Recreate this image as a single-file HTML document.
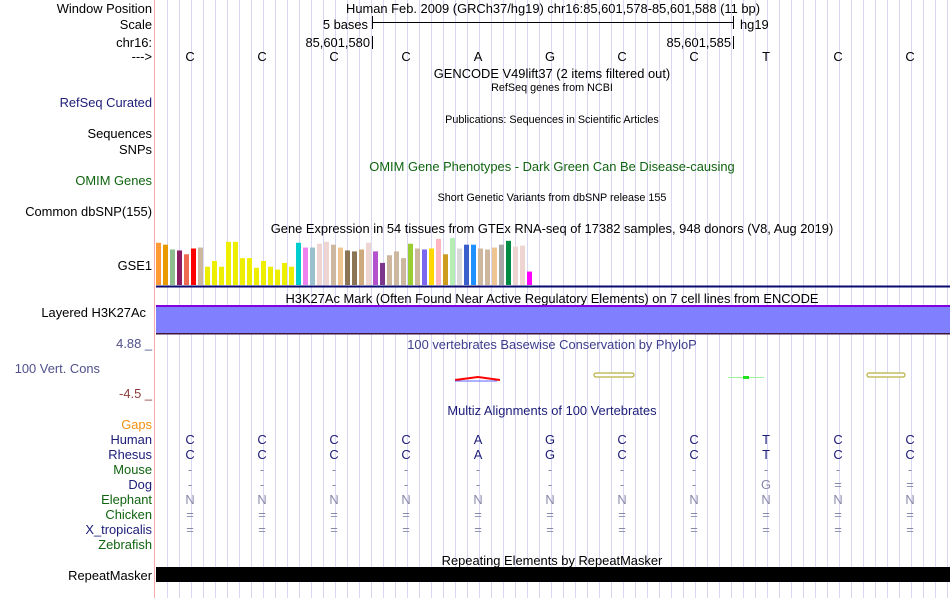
<!DOCTYPE html>
<html><head><meta charset="utf-8"><style>
html,body{margin:0;padding:0;background:#fff;}
svg{display:block;font-family:"Liberation Sans",sans-serif;}
</style></head><body>
<svg id="c" width="950" height="598" viewBox="0 0 950 598" xmlns="http://www.w3.org/2000/svg">
<g id="grid"></g>
<line x1="154.5" y1="0" x2="154.5" y2="598" stroke="#f8a8a8" stroke-width="1"/>
<g font-size="12.9" text-anchor="end" fill="#000">
<text x="152" y="13">Window Position</text>
<text x="152" y="29">Scale</text>
<text x="152" y="47">chr16:</text>
<text x="152" y="61">---&gt;</text>
<text x="152" y="107" fill="#1c1c78">RefSeq Curated</text>
<text x="152" y="138">Sequences</text>
<text x="152" y="154">SNPs</text>
<text x="152" y="185" fill="#106410">OMIM Genes</text>
<text x="152" y="216">Common dbSNP(155)</text>
<text x="152" y="270">GSE1</text>
<text x="146" y="317">Layered H3K27Ac</text>
<text x="152" y="348" fill="#50508c">4.88 _</text>
<text x="100" y="373" fill="#50508c">100 Vert. Cons</text>
<text x="152" y="398" fill="#8c3c3c">-4.5 _</text>
<text x="152" y="429" fill="#f09010">Gaps</text>
<text x="152" y="444" fill="#1c1c78">Human</text>
<text x="152" y="459" fill="#1c1c78">Rhesus</text>
<text x="152" y="474" fill="#106410">Mouse</text>
<text x="152" y="489" fill="#1c1c78">Dog</text>
<text x="152" y="504" fill="#106410">Elephant</text>
<text x="152" y="519" fill="#106410">Chicken</text>
<text x="152" y="534" fill="#1c1c78">X_tropicalis</text>
<text x="152" y="549" fill="#106410">Zebrafish</text>
<text x="152" y="580">RepeatMasker</text>
</g>
<g font-size="12.9" fill="#000">
<text x="553" y="13" text-anchor="middle">Human Feb. 2009 (GRCh37/hg19)   chr16:85,601,578-85,601,588 (11 bp)</text>
<text x="368" y="29" text-anchor="end">5 bases</text>
<line x1="372" y1="22.5" x2="734" y2="22.5" stroke="#000"/>
<line x1="372.5" y1="16" x2="372.5" y2="29" stroke="#000"/>
<line x1="733.5" y1="16" x2="733.5" y2="29" stroke="#000"/>
<text x="740" y="29">hg19</text>
<text x="370" y="47" text-anchor="end">85,601,580</text>
<line x1="372.5" y1="36" x2="372.5" y2="49" stroke="#000"/>
<text x="731" y="47" text-anchor="end">85,601,585</text>
<line x1="733.5" y1="36" x2="733.5" y2="49" stroke="#000"/>
<text x="552" y="78" text-anchor="middle">GENCODE V49lift37 (2 items filtered out)</text>
<text x="552" y="91" text-anchor="middle" font-size="10.8">RefSeq genes from NCBI</text>
<text x="552" y="123" text-anchor="middle" font-size="10.8">Publications: Sequences in Scientific Articles</text>
<text x="552" y="171" text-anchor="middle" fill="#106410">OMIM Gene Phenotypes - Dark Green Can Be Disease-causing</text>
<text x="552" y="201" text-anchor="middle" font-size="10.8">Short Genetic Variants from dbSNP release 155</text>
<text x="552" y="233" text-anchor="middle">Gene Expression in 54 tissues from GTEx RNA-seq of 17382 samples, 948 donors (V8, Aug 2019)</text>
<text x="552" y="303" text-anchor="middle">H3K27Ac Mark (Often Found Near Active Regulatory Elements) on 7 cell lines from ENCODE</text>
<text x="552" y="349" text-anchor="middle" fill="#3c3c8c">100 vertebrates Basewise Conservation by PhyloP</text>
<text x="552" y="415" text-anchor="middle" fill="#1c1c78">Multiz Alignments of 100 Vertebrates</text>
<text x="552" y="565" text-anchor="middle">Repeating Elements by RepeatMasker</text>
</g>
<g id="bases" font-size="12.9" text-anchor="middle"></g>
<g id="gtex"></g>
<rect x="156" y="285.5" width="794" height="2" fill="#0a0a6e"/>
<rect x="156" y="305" width="794" height="2" fill="#8000e0"/>
<rect x="156" y="307" width="794" height="26" fill="#8080ff"/>
<rect x="156" y="333" width="794" height="1.5" fill="#3c143c"/>
<g>
<path d="M455,380 L478,377 L500,380" fill="none" stroke="#f00" stroke-width="2"/>
<line x1="455" y1="381" x2="497" y2="381" stroke="#6060ff"/>
<rect x="594" y="373" width="40" height="4" rx="2" fill="#fff" stroke="#b8b040" stroke-width="1.2"/>
<rect x="728" y="377" width="36" height="1" fill="#a0f0a0"/>
<rect x="743" y="376" width="6" height="3" fill="#20e020"/>
<rect x="867" y="373" width="38" height="4" rx="2" fill="#fff" stroke="#b8b040" stroke-width="1.2"/>
</g>
<g id="multiz" font-size="12.9" text-anchor="middle"></g>
<rect x="156" y="567" width="794" height="15" fill="#000"/>
</svg>
<script>
const NS="http://www.w3.org/2000/svg";
const baseLetters=["C","C","C","C","A","G","C","C","T","C","C"];
const dogRow=["-","-","-","-","-","-","-","-","G","=","="];
const gtexValues=[44,42,37,36,32,38,39,19,25,19,45,45,28,28,18,25,19,16,23,19,44,39,39,43,45,42,39,36,35,37,44,35,23,31,35,28,43,38,37,38,48,32,49,38,42,42,38,37,39,42,46,40,41,14];
const gtexColors=["#ff9933","#e89a00","#8fbc8f","#8b1c62","#ee6a50","#ff0000","#cdb79e","#eeee00","#eeee00","#eeee00","#eeee00","#eeee00","#eeee00","#eeee00","#eeee00","#eeee00","#eeee00","#eeee00","#eeee00","#eeee00","#00cdcd","#ee82ee","#9ac0cd","#eed5d2","#eed5d2","#cdb79e","#eec591","#8b7355","#8b7355","#cdaa7d","#eed5d2","#b452cd","#7a378b","#cdb79e","#cdb79e","#cdb79e","#9acd32","#cdb79e","#7b68ee","#ffd700","#ffb6c1","#cd9b1d","#b4eeb4","#d9d9d9","#3a5fcd","#1e90ff","#cdb79e","#cdb79e","#eec591","#a6a6a6","#008b45","#eed5d2","#eed5d2","#ff00ff"];
const gtexMax=50;
const baseX=i=>190+i*72;
const barX=i=>156+i*7;
const barY=v=>285-v/gtexMax*48;
const grid=document.getElementById('grid');
for(let x=167.5;x<950;x+=12){
  const l=document.createElementNS(NS,'line');
  l.setAttribute('x1',x);l.setAttribute('x2',x);l.setAttribute('y1',0);l.setAttribute('y2',598);
  l.setAttribute('stroke','#d8d8f4');
  
  
  grid.appendChild(l);
}
const gt=document.getElementById('gtex');
gtexValues.forEach((v,i)=>{
  const r=document.createElementNS(NS,'rect');
  r.setAttribute('x',barX(i));r.setAttribute('width',5);
  r.setAttribute('y',barY(v));r.setAttribute('height',285-barY(v));
  r.setAttribute('fill',gtexColors[i]);
  
  
  gt.appendChild(r);
});
function txt(g,x,y,s,fill,name){
  const t=document.createElementNS(NS,'text');
  t.setAttribute('x',x);t.setAttribute('y',y);t.setAttribute('fill',fill);
  t.textContent=s;
  
  
  g.appendChild(t);
}
const bg=document.getElementById('bases');
const mz=document.getElementById('multiz');
baseLetters.forEach((b,i)=>{
  const x=baseX(i);
  txt(bg,x,61,b,'#000','base-letter');
  txt(mz,x,444,b,'#1c1c78','human-base');
  txt(mz,x,459,b,'#1c1c78','rhesus-base');
  txt(mz,x,474,'-','#8888aa','mouse-base');
  txt(mz,x,489,dogRow[i],'#8888aa','dog-base');
  txt(mz,x,504,'N','#8888aa','elephant-base');
  txt(mz,x,519,'=','#8888aa','chicken-base');
  txt(mz,x,534,'=','#8888aa','xtropicalis-base');
});
</script>
</body></html>
